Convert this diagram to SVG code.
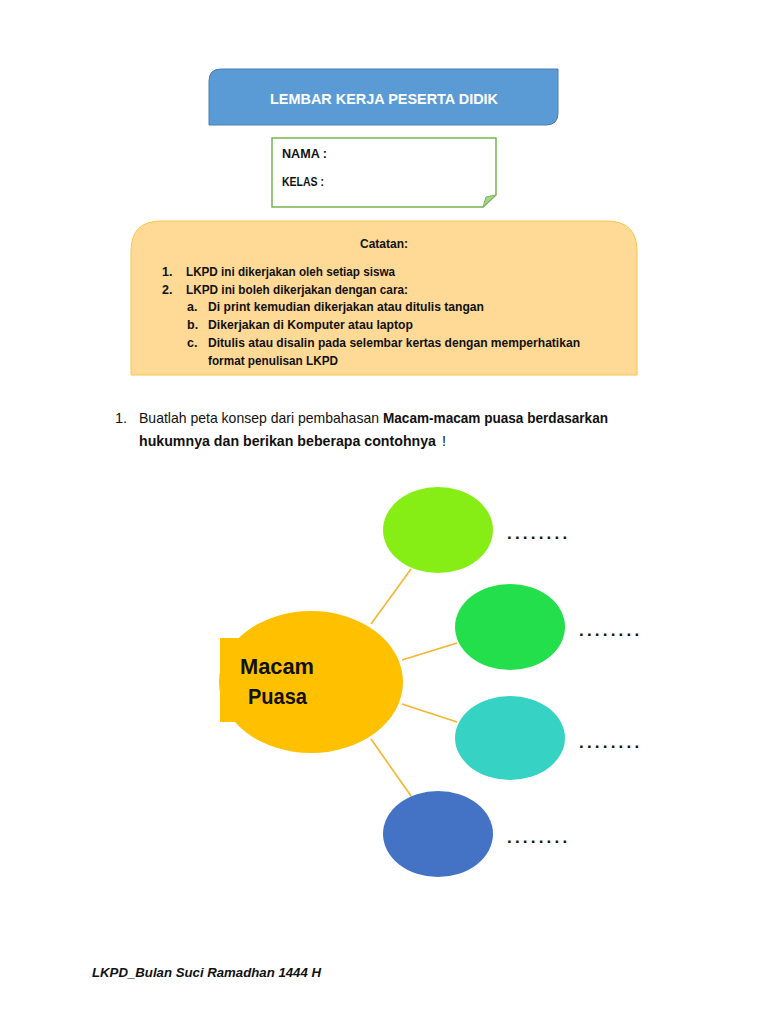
<svg xmlns="http://www.w3.org/2000/svg" width="768" height="1024" viewBox="0 0 768 1024">
<style>
text{font-family:"Liberation Sans",Arial,sans-serif;fill:#111}
.b{font-weight:bold}
.note{font-size:12.5px;font-weight:bold}
.q{font-size:14.5px}
.dots{font-size:17px;font-weight:bold;letter-spacing:3.2px}
.link{stroke:#F5B52E;stroke-width:1.6;fill:none}
</style>
<rect width="768" height="1024" fill="#fff"/>
<g id="header">
<path d="M221,69 H558 V113 Q558,125 546,125 H209 V81 Q209,69 221,69 Z" fill="#5B9BD5" stroke="#4A7FB5" stroke-width="1"/>
<text x="384" y="104" text-anchor="middle" class="b" style="font-size:15px;fill:#fff" textLength="228" lengthAdjust="spacingAndGlyphs">LEMBAR KERJA PESERTA DIDIK</text>
</g>
<g id="namebox">
<path d="M272,138 H496 V195 L483,207 H272 Z" fill="#fff" stroke="#77B552" stroke-width="1.5"/>
<path d="M483,207 L486,197 L496,195 Z" fill="#A9D18E" stroke="#77B552" stroke-width="1"/>
<text x="282" y="158" class="b" style="font-size:12.5px" textLength="45" lengthAdjust="spacingAndGlyphs">NAMA :</text>
<text x="282" y="186" class="b" style="font-size:12.5px" textLength="42" lengthAdjust="spacingAndGlyphs">KELAS :</text>
</g>
<g id="catatan">
<path d="M131,375 V251 Q131,221 161,221 H607 Q637,221 637,251 V375 Z" fill="#FFD996" stroke="#F7C64A" stroke-width="1"/>
<text x="384" y="248" text-anchor="middle" class="note" textLength="48" lengthAdjust="spacingAndGlyphs">Catatan:</text>
<text x="162" y="276" class="note">1.</text>
<text x="186" y="276" class="note" textLength="209" lengthAdjust="spacingAndGlyphs">LKPD ini dikerjakan oleh setiap siswa</text>
<text x="162" y="294" class="note">2.</text>
<text x="186" y="294" class="note" textLength="222" lengthAdjust="spacingAndGlyphs">LKPD ini boleh dikerjakan dengan cara:</text>
<text x="187" y="311" class="note">a.</text>
<text x="208" y="311" class="note" textLength="276" lengthAdjust="spacingAndGlyphs">Di print kemudian dikerjakan atau ditulis tangan</text>
<text x="187" y="329" class="note">b.</text>
<text x="208" y="329" class="note" textLength="205" lengthAdjust="spacingAndGlyphs">Dikerjakan di Komputer atau laptop</text>
<text x="187" y="347" class="note">c.</text>
<text x="208" y="347" class="note" textLength="372" lengthAdjust="spacingAndGlyphs">Ditulis atau disalin pada selembar kertas dengan memperhatikan</text>
<text x="208" y="365" class="note" textLength="130" lengthAdjust="spacingAndGlyphs">format penulisan LKPD</text>
</g>
<g id="question">
<text x="115" y="423" class="q">1.</text>
<text x="139" y="423" class="q" textLength="240" lengthAdjust="spacingAndGlyphs">Buatlah peta konsep dari pembahasan</text>
<text x="383" y="423" class="q b" textLength="225" lengthAdjust="spacingAndGlyphs">Macam-macam puasa berdasarkan</text>
<text x="139" y="446" class="q b" textLength="297" lengthAdjust="spacingAndGlyphs">hukumnya dan berikan beberapa contohnya</text>
<text x="442" y="446" class="q">!</text>
</g>
<g id="connectors">
<line class="link" x1="371" y1="624" x2="411" y2="569"/>
<line class="link" x1="402" y1="660" x2="457" y2="643"/>
<line class="link" x1="402" y1="704" x2="457" y2="722"/>
<line class="link" x1="371" y1="739" x2="411" y2="796"/>
</g>
<g id="macam-puasa">
<rect x="220" y="638" width="40" height="84" fill="#FFC000"/>
<ellipse cx="311" cy="682" rx="92" ry="71" fill="#FFC000"/>
<text x="240" y="674" class="b" style="font-size:22px" textLength="74" lengthAdjust="spacingAndGlyphs">Macam</text>
<text x="248" y="704" class="b" style="font-size:22px" textLength="59" lengthAdjust="spacingAndGlyphs">Puasa</text>
</g>
<g id="node1">
<ellipse cx="438" cy="530" rx="55" ry="43" fill="#86EE14"/>
<text x="507" y="539" class="dots">........</text>
</g>
<g id="node2">
<ellipse cx="510" cy="627" rx="55" ry="43" fill="#23DF4C"/>
<text x="579" y="636" class="dots">........</text>
</g>
<g id="node3">
<ellipse cx="510" cy="738" rx="55" ry="42" fill="#36D3C4"/>
<text x="579" y="748" class="dots">........</text>
</g>
<g id="node4">
<ellipse cx="438" cy="834" rx="55" ry="43" fill="#4472C4"/>
<text x="507" y="843" class="dots">........</text>
</g>
<text x="92" y="977" style="font-size:13.5px;font-weight:bold;font-style:italic" textLength="229" lengthAdjust="spacingAndGlyphs">LKPD_Bulan Suci Ramadhan 1444 H</text>
</svg>
